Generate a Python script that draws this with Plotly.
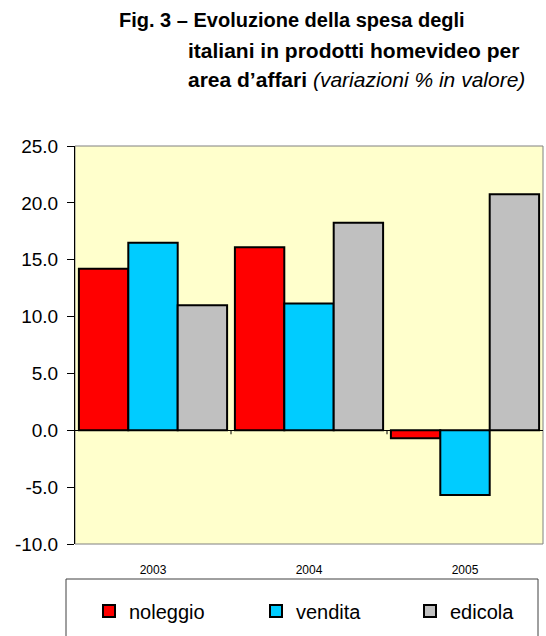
import plotly.graph_objects as go

years = ["2003", "2004", "2005"]
noleggio = [14.2, 16.1, -0.7]
vendita = [16.5, 11.15, -5.7]
edicola = [11.0, 18.25, 20.75]
series_names = ["noleggio", "vendita", "edicola"]
series_colors = ["#FF0000", "#00CCFF", "#C0C0C0"]
y_ticks = [-10, -5, 0, 5, 10, 15, 20, 25]
y_tick_text = ["%.1f" % v for v in y_ticks]

W, H = 546, 636
L, R, T, B = 75, 3, 146, 92
pw, ph = W - L - R, H - T - B

def px_x(px):
    return (px - L) / pw

def px_y(py):
    return (H - B - py) / ph

font_family = "Liberation Sans, Arial, sans-serif"
legend_ids = ["legend", "legend2", "legend3"]
legend_px = [89, 256, 410]

fig = go.Figure()
for name, vals, col, lid in zip(series_names, [noleggio, vendita, edicola], series_colors, legend_ids):
    fig.add_trace(go.Bar(
        x=years, y=vals, name=name, legend=lid,
        marker=dict(color=col, line=dict(color="black", width=2)),
    ))

legend_common = dict(
    orientation="h", xanchor="left", yanchor="middle",
    y=px_y(611),
    font=dict(size=20, family=font_family),
    bgcolor="rgba(0,0,0,0)", itemwidth=30,
)

fig.update_layout(
    width=W, height=H,
    margin=dict(l=L, r=R, t=T, b=B, autoexpand=False),
    paper_bgcolor="white",
    plot_bgcolor="#FFFFCC",
    barmode="group",
    bargap=0.05,
    bargroupgap=0,
    font=dict(family=font_family, color="black"),
    showlegend=True,
    xaxis=dict(
        showline=False, ticks="", showgrid=False,
        tickfont=dict(size=12, family=font_family),
        ticklabelstandoff=17,
    ),
    yaxis=dict(
        range=[-10, 25], tickvals=y_ticks, ticktext=y_tick_text,
        showgrid=False, showline=True, linecolor="black", linewidth=1,
        ticks="outside", ticklen=7, tickcolor="black",
        tickfont=dict(size=19, family=font_family),
        ticklabelstandoff=5,
        zeroline=True, zerolinecolor="black", zerolinewidth=1,
    ),
)
for lid, lx in zip(legend_ids, legend_px):
    fig.update_layout({lid: dict(legend_common, x=px_x(lx))})

# plot area border (grey)
fig.add_shape(type="rect", xref="paper", yref="paper", x0=0, x1=1, y0=0, y1=1,
              line=dict(color="#808080", width=1), fillcolor="rgba(0,0,0,0)", layer="below")
# category boundary ticks on the zero line
for xb in [0.5, 1.5]:
    fig.add_shape(type="line", xref="x", yref="y", x0=xb, x1=xb, y0=0, y1=-0.35,
                  line=dict(color="black", width=1))
# legend box
fig.add_shape(type="rect", xref="paper", yref="paper",
              x0=px_x(66), x1=px_x(538), y0=px_y(579), y1=px_y(660),
              line=dict(color="#404040", width=1), fillcolor="rgba(0,0,0,0)")

# title
title_lines = [
    ("<b>Fig. 3 – Evoluzione della spesa degli</b>", 117, 20, 20),
    ("<b>italiani in prodotti homevideo per</b>", 186, 50, 21),
    ("<b>area d’affari</b> <i>(variazioni % in valore)</i>", 186, 79, 21),
]
for txt, x, y, fs in title_lines:
    fig.add_annotation(text=txt, xref="paper", yref="paper",
                       x=px_x(x), y=px_y(y), xanchor="left", yanchor="middle",
                       showarrow=False, font=dict(size=fs, family=font_family, color="black"))

fig.write_html("out.html")
